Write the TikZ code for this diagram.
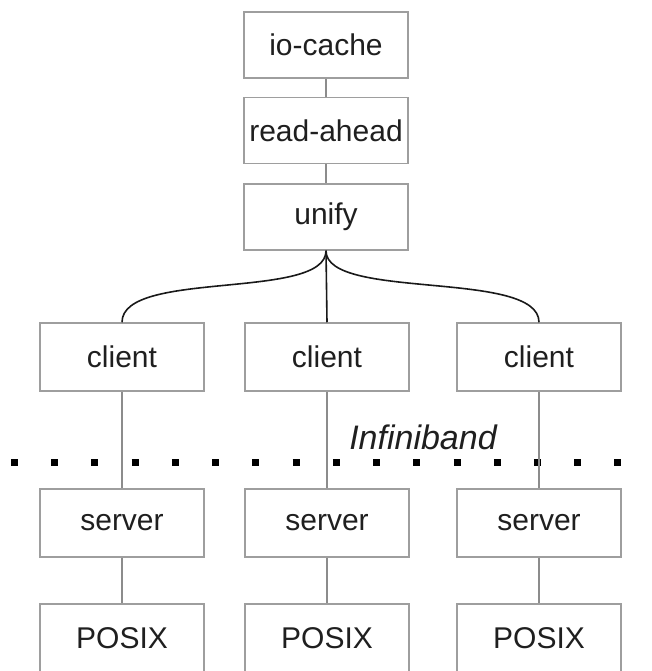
\documentclass[tikz,border=0pt]{standalone}
\usepackage{fontspec}
\setmainfont{Liberation Sans}
\begin{document}
\begin{tikzpicture}[x=1pt,y=-1pt,
  box/.style={draw=black!38, line width=1.5pt, minimum width=164pt, minimum height=66pt, inner sep=0pt, text=black!88, font=\fontsize{30}{34}\selectfont},
  gline/.style={draw=black!45, line width=1.5pt},
  curve/.style={draw=black!90, line width=1.6pt}]
\useasboundingbox (0,0) rectangle (651,671);
\clip (0,0) rectangle (651,671);
% dotted separator
\draw[line width=7pt, dash pattern=on 7pt off 33.23pt] (11,462) -- (622,462);
\node[box] (io) at (326,45) {io-cache};
\node[box] (ra) at (326,130.5) {read-ahead};
\node[box] (un) at (326,217) {unify};
\node[box, minimum height=68pt] (c1) at (122,357) {client};
\node[box, minimum height=68pt] (c2) at (327,357) {client};
\node[box, minimum height=68pt] (c3) at (539,357) {client};
\node[box, minimum height=68pt] (s1) at (122,523) {server};
\node[box, minimum height=68pt] (s2) at (327,523) {server};
\node[box, minimum height=68pt] (s3) at (539,523) {server};
\node[box, minimum height=68pt] (p1) at (122,638) {POSIX};
\node[box, minimum height=68pt] (p2) at (327,638) {POSIX};
\node[box, minimum height=68pt] (p3) at (539,638) {POSIX};
\node[font=\itshape\fontsize{34}{38}\selectfont, text=black!88] (ib) at (423,437) {Infiniband};
\draw[gline] (io) -- (ra);
\draw[gline] (ra) -- (un);
\draw[curve] (un.south) .. controls ([yshift=-50pt]un.south) and ([yshift=53pt]c1.north) .. (c1.north);
\draw[curve] (un.south) -- (c2.north);
\draw[curve] (un.south) .. controls ([yshift=-50pt]un.south) and ([yshift=53pt]c3.north) .. (c3.north);
\foreach \i in {1,2,3} {
  \draw[gline] (c\i) -- (s\i);
  \draw[gline] (s\i) -- (p\i);
}
\end{tikzpicture}
\end{document}
